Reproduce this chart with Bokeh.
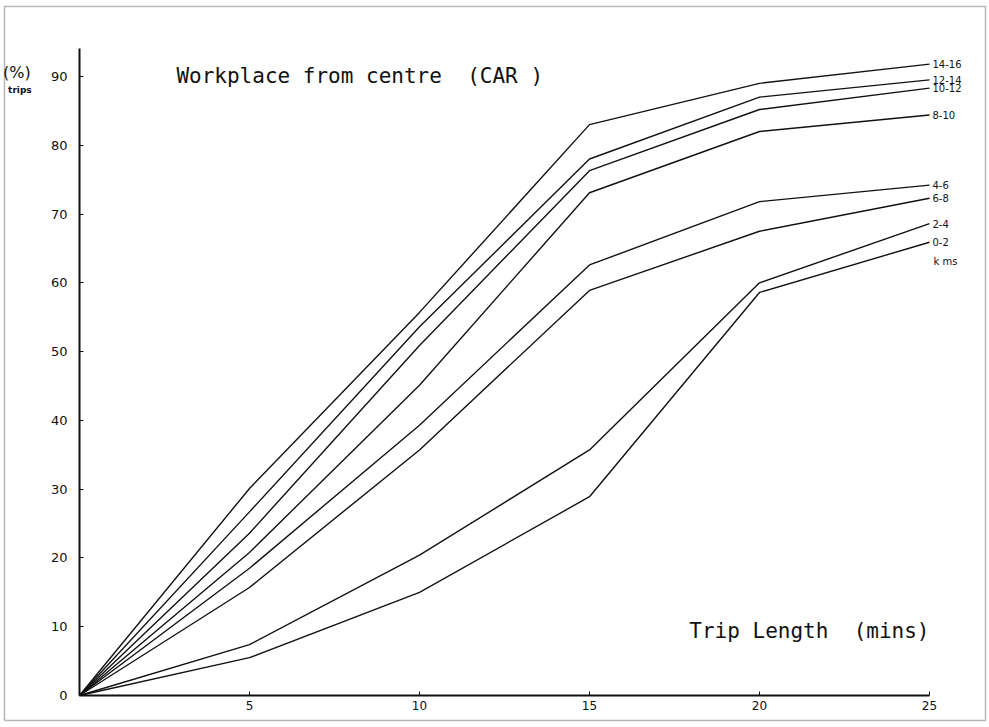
from bokeh.plotting import figure
from bokeh.models import Range1d, FixedTicker, BoxAnnotation, ColumnDataSource
from bokeh.core.properties import value
from bokeh.embed import file_html
from bokeh.resources import INLINE

# ---- data ----
trip_minutes = [0, 5, 10, 15, 20, 25]
dist_14_16 = [0, 30.1, 55.7, 83.0, 89.0, 91.8]
dist_12_14 = [0, 26.7, 53.6, 78.0, 87.0, 89.5]
dist_10_12 = [0, 23.6, 50.9, 76.3, 85.2, 88.3]
dist_8_10 = [0, 20.8, 45.1, 73.1, 82.0, 84.4]
dist_4_6 = [0, 18.5, 39.3, 62.6, 71.8, 74.2]
dist_6_8 = [0, 15.7, 35.7, 58.9, 67.5, 72.3]
dist_2_4 = [0, 7.4, 20.4, 35.7, 60.0, 68.6]
dist_0_2 = [0, 5.5, 15.0, 28.9, 58.6, 65.9]

series_names = ["14-16", "12-14", "10-12", "8-10", "4-6", "6-8", "2-4", "0-2"]
series_values = [dist_14_16, dist_12_14, dist_10_12, dist_8_10,
                 dist_4_6, dist_6_8, dist_2_4, dist_0_2]

x_ticks = [5, 10, 15, 20, 25]
y_ticks = [0, 10, 20, 30, 40, 50, 60, 70, 80, 90]

FONT = "DejaVu Sans"
LETTERING = "DejaVu Sans Mono"
INK = "#111111"
NB = "\u00a0"

# pixel geometry of the scanned page: x 0..25 -> 79..929 px, y 0..90 -> 695..76 px
PX_X = 34.0
PX_Y = 6.878

p = figure(width=989, height=727, output_backend="svg", toolbar_location=None,
           x_range=Range1d(-79 / PX_X, 910 / PX_X),
           y_range=Range1d(-32 / PX_Y, 695 / PX_Y),
           min_border=0, min_border_left=0, min_border_right=0,
           min_border_top=0, min_border_bottom=0)
p.outline_line_color = None
p.xgrid.visible = False
p.ygrid.visible = False
p.background_fill_color = "white"
p.border_fill_color = "white"

# axes drawn at the data origin
xa = p.xaxis[0]
xa.fixed_location = 0
xa.ticker = FixedTicker(ticks=x_ticks)
xa.bounds = (0, 25)
xa.axis_line_width = 2
xa.axis_line_color = INK
xa.major_tick_in = 4
xa.major_tick_out = 0
xa.minor_tick_line_color = None
xa.major_tick_line_color = INK
xa.major_label_text_font = FONT
xa.major_label_text_font_size = "12px"
xa.major_label_text_color = INK
xa.major_label_standoff = 5

ya = p.yaxis[0]
ya.fixed_location = 0
ya.ticker = FixedTicker(ticks=y_ticks)
ya.bounds = (0, 94)
ya.axis_line_width = 2
ya.axis_line_color = INK
ya.major_tick_in = 4
ya.major_tick_out = 0
ya.minor_tick_line_color = None
ya.major_tick_line_color = INK
ya.major_label_text_font = FONT
ya.major_label_text_font_size = "13px"
ya.major_label_text_color = INK
ya.major_label_standoff = 12

# curves
for vals in series_values:
    p.line(trip_minutes, vals, line_color=INK, line_width=1.4)

# curve labels at right end
end_src = ColumnDataSource(dict(
    x=[trip_minutes[-1]] * len(series_names),
    y=[v[-1] for v in series_values],
    t=series_names))
p.text(x="x", y="y", text="t", source=end_src, x_offset=3,
       text_font=value(FONT), text_font_size="10px", text_color=INK,
       text_baseline="middle", text_align="left")
p.text(x=[trip_minutes[-1]], y=[dist_0_2[-1]], text=["k ms"], x_offset=4, y_offset=19,
       text_font=value(FONT), text_font_size="10px", text_color=INK,
       text_baseline="middle", text_align="left")

# titles (stencil-like lettering)
p.text(x=[2.85], y=[90.1], text=["Workplace from centre " + NB + "(CAR )"],
       text_font=value(LETTERING), text_font_size="21px", text_color=INK,
       text_baseline="middle", text_align="left")
p.text(x=[25.0], y=[9.4], text=["Trip Length " + NB + "(mins)"],
       text_font=value(LETTERING), text_font_size="21px", text_color=INK,
       text_baseline="middle", text_align="right")

# y unit labels (left of the axis)
p.text(x=[-2.25], y=[90.6], text=["(%)"], text_font=value(FONT), text_font_size="16px",
       text_color=INK, text_baseline="middle", text_align="left")
p.text(x=[-2.1], y=[88.1], text=["trips"], text_font=value(FONT), text_font_size="9px",
       text_font_style="bold", text_color=INK, text_baseline="middle", text_align="left")

# page frame of the scan
p.add_layout(BoxAnnotation(left=-75 / PX_X, right=906 / PX_X, top=689 / PX_Y, bottom=-25 / PX_Y,
                           fill_color=None, line_color=INK, line_width=1.5))

open("out.html", "w").write(file_html(p, INLINE))
